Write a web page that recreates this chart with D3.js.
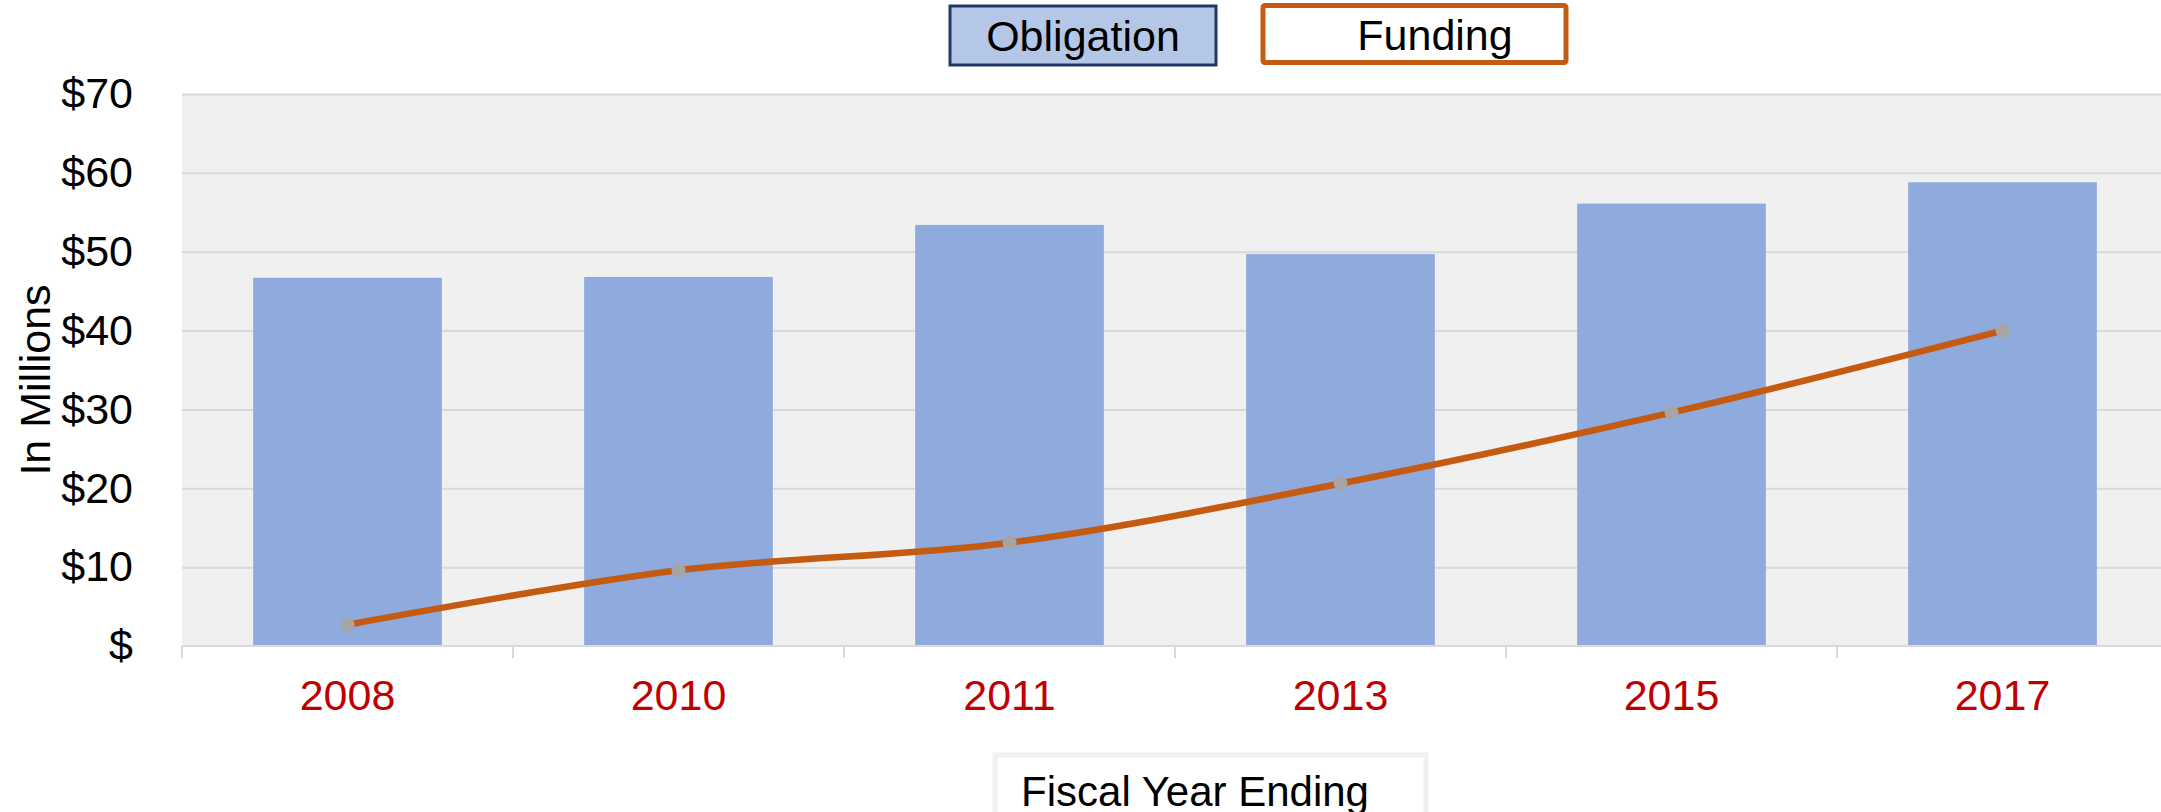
<!DOCTYPE html>
<html>
<head>
<meta charset="utf-8">
<script src="https://cdn.jsdelivr.net/npm/d3@7"></script>
<style>
  body { margin: 0; background: #fff; }
  text { font-family: "Liberation Sans", Arial, sans-serif; }
</style>
</head>
<body>
<div id="chart"></div>
<script>
// data
var years = ["2008", "2010", "2011", "2013", "2015", "2017"];
var obligation = [46.7, 46.8, 53.4, 49.7, 56.1, 58.8];
var funding = [2.7, 9.6, 13.1, 20.6, 29.6, 40.0];
var yTicks = [0, 10, 20, 30, 40, 50, 60, 70];

var svgWidth = 2161;
var svgHeight = 812;

var plot = { left: 182, right: 2168, top: 94, bottom: 646 };

var svg = d3.select("#chart")
  .append("svg")
  .attr("width", svgWidth)
  .attr("height", svgHeight);

var x = d3.scaleBand()
  .domain(years)
  .range([plot.left, plot.right])
  .paddingInner(0.43)
  .paddingOuter(0.215);

var y = d3.scaleLinear()
  .domain([0, 70])
  .range([plot.bottom, plot.top]);

// plot background
svg.append("rect")
  .attr("x", plot.left)
  .attr("y", plot.top)
  .attr("width", plot.right - plot.left)
  .attr("height", plot.bottom - plot.top)
  .attr("fill", "#f0f0f0");

// gridlines
var grid = svg.append("g")
  .attr("transform", `translate(${plot.left},0)`)
  .call(d3.axisLeft(y).tickValues(yTicks.slice(1)).tickSize(-(plot.right - plot.left)).tickFormat(""));
grid.select(".domain").remove();
grid.selectAll("line").attr("stroke", "#d9d9d9").attr("stroke-width", 2);

// y axis labels
var yAxis = svg.append("g")
  .attr("transform", `translate(${plot.left},0)`)
  .call(d3.axisLeft(y).tickValues(yTicks).tickSize(0).tickPadding(49)
    .tickFormat(d => d === 0 ? "$" : "$" + d));
yAxis.select(".domain").remove();
yAxis.selectAll("text")
  .attr("font-size", 43)
  .attr("fill", "#000")
  .style("font-family", "'Liberation Sans', Arial, sans-serif");

// bars
svg.selectAll(".bar")
  .data(years)
  .enter()
  .append("rect")
  .attr("class", "bar")
  .attr("x", d => x(d))
  .attr("y", (d, i) => y(obligation[i]))
  .attr("width", x.bandwidth())
  .attr("height", (d, i) => y(0) - y(obligation[i]))
  .attr("fill", "#8faadc");

// x axis line and tick marks at category boundaries
svg.append("line")
  .attr("x1", plot.left).attr("x2", plot.right)
  .attr("y1", y(0)).attr("y2", y(0))
  .attr("stroke", "#d9d9d9").attr("stroke-width", 2);

var bounds = years.map(d => x(d) - x.step() * x.paddingInner() / 2);
bounds.push(bounds[bounds.length - 1] + x.step());
svg.selectAll(".xtick")
  .data(bounds)
  .enter()
  .append("line")
  .attr("x1", d => d).attr("x2", d => d)
  .attr("y1", y(0)).attr("y2", y(0) + 12)
  .attr("stroke", "#d9d9d9").attr("stroke-width", 2);

// x labels
var xAxis = svg.append("g")
  .attr("transform", `translate(0,${y(0)})`)
  .call(d3.axisBottom(x).tickSize(0).tickPadding(33));
xAxis.select(".domain").remove();
xAxis.selectAll("text")
  .attr("font-size", 43)
  .attr("fill", "#c00000")
  .style("font-family", "'Liberation Sans', Arial, sans-serif");

// funding line
var line = d3.line()
  .x((d, i) => x(years[i]) + x.bandwidth() / 2)
  .y(d => y(d))
  .curve(d3.curveCatmullRom.alpha(0.5));

svg.append("path")
  .datum(funding)
  .attr("d", line)
  .attr("fill", "none")
  .attr("stroke", "#c55a11")
  .attr("stroke-width", 6.5);

svg.selectAll(".dot")
  .data(funding)
  .enter()
  .append("circle")
  .attr("cx", (d, i) => x(years[i]) + x.bandwidth() / 2)
  .attr("cy", d => y(d))
  .attr("r", 7)
  .attr("fill", "#a5a5a5");

// y axis title
svg.append("text")
  .attr("transform", "translate(50,380) rotate(-90)")
  .attr("text-anchor", "middle")
  .attr("font-size", 43)
  .text("In Millions");

// legend
svg.append("rect")
  .attr("x", 950).attr("y", 6)
  .attr("width", 266).attr("height", 59)
  .attr("fill", "#b4c7e7")
  .attr("stroke", "#203864").attr("stroke-width", 3);
svg.append("text")
  .attr("x", 1083).attr("y", 51)
  .attr("text-anchor", "middle")
  .attr("font-size", 43)
  .text("Obligation");

svg.append("rect")
  .attr("x", 1263).attr("y", 5.5)
  .attr("width", 303).attr("height", 57)
  .attr("rx", 2)
  .attr("fill", "#fff")
  .attr("stroke", "#c55a11").attr("stroke-width", 5);
svg.append("text")
  .attr("x", 1435).attr("y", 50)
  .attr("text-anchor", "middle")
  .attr("font-size", 43)
  .text("Funding");

// x axis title
svg.append("rect")
  .attr("x", 995).attr("y", 755)
  .attr("width", 431).attr("height", 80)
  .attr("fill", "#fff")
  .attr("stroke", "#f0f0f0").attr("stroke-width", 5);
svg.append("text")
  .attr("x", 1195).attr("y", 806)
  .attr("text-anchor", "middle")
  .attr("font-size", 42)
  .text("Fiscal Year Ending");
</script>
</body>
</html>
